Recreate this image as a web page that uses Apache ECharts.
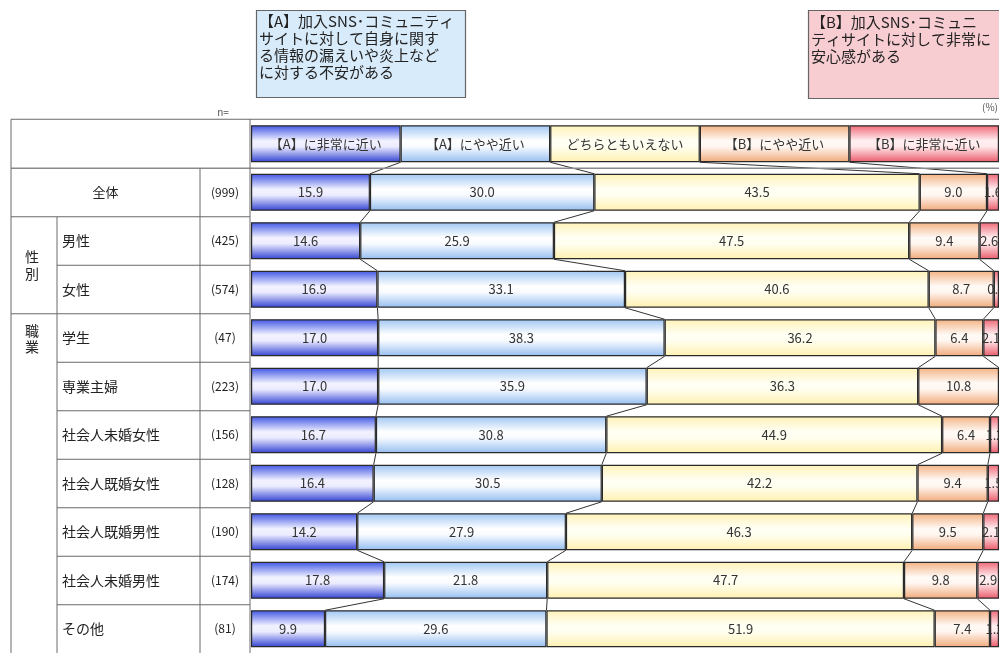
<!DOCTYPE html>
<html><head><meta charset="utf-8">
<script src="https://cdn.jsdelivr.net/npm/echarts@6/dist/echarts.min.js"></script>
<style>html,body{margin:0;padding:0;background:#fff}#main{width:999px;height:653px}</style>
</head><body><div id="main"></div>
<script>
// ---------- data ----------
const seriesNames = ['【A】に非常に近い', '【A】にやや近い', 'どちらともいえない', '【B】にやや近い', '【B】に非常に近い'];
const headerShares = [20, 20, 20, 20, 20];
const rowLabels = ['全体', '男性', '女性', '学生', '専業主婦', '社会人未婚女性', '社会人既婚女性', '社会人既婚男性', '社会人未婚男性', 'その他'];
const sampleSizes = [999, 425, 574, 47, 223, 156, 128, 190, 174, 81];
const veryA   = [15.9, 14.6, 16.9, 17.0, 17.0, 16.7, 16.4, 14.2, 17.8, 9.9];
const someA   = [30.0, 25.9, 33.1, 38.3, 35.9, 30.8, 30.5, 27.9, 21.8, 29.6];
const neither = [43.5, 47.5, 40.6, 36.2, 36.3, 44.9, 42.2, 46.3, 47.7, 51.9];
const someB   = [9.0, 9.4, 8.7, 6.4, 10.8, 6.4, 9.4, 9.5, 9.8, 7.4];
const veryB   = [1.6, 2.6, 0.7, 2.1, 0.0, 1.2, 1.5, 2.1, 2.9, 1.2];
// group rows given as indices into rowLabels
const groupLabels = [{text: '性\n別', from: 1, to: 2, align: 'middle'}, {text: '職\n業', from: 3, to: 9, align: 'top'}];
const boxAText = '【A】加入SNS･コミュニティ\nサイトに対して自身に関す\nる情報の漏えいや炎上など\nに対する不安がある';
const boxBText = '【B】加入SNS･コミュニ\nティサイトに対して非常に\n安心感がある';

// ---------- layout / style ----------
const FONT = '"Noto Sans CJK JP", "Noto Sans", sans-serif';
const GRID = {left: 251, top: 119.5, width: 754, height: 539};
const BAR_W = 37;
const TABLE = {x0: 11, xGroup: 57, xN: 200, x1: 250, right: 999};
const values = [veryA, someA, neither, someB, veryB];
const cats = ['__header'].concat(rowLabels);
const grads = [
  [[0, '#3f55e4'], [0.42, '#f2f2ff'], [0.58, '#ececff'], [1, '#3142d2']],
  [[0, '#9fc6f3'], [0.42, '#ffffff'], [0.58, '#f8fbff'], [1, '#94bdf0']],
  [[0, '#fff2b8'], [0.42, '#fffff4'], [0.58, '#fffff0'], [1, '#fff0b0']],
  [[0, '#f3b283'], [0.42, '#fffaf6'], [0.58, '#fff6f0'], [1, '#f0aa7a']],
  [[0, '#ef6675'], [0.42, '#fff0f2'], [0.58, '#ffe8ea'], [1, '#ea5a6a']]
];

const chart = echarts.init(document.getElementById('main'), null, {renderer: 'canvas'});

const barSeries = seriesNames.map((name, k) => ({
  name: name,
  type: 'bar',
  stack: 'total',
  barWidth: BAR_W,
  data: [headerShares[k]].concat(values[k]),
  itemStyle: {
    color: new echarts.graphic.LinearGradient(0, 0, 0, 1, grads[k].map(s => ({offset: s[0], color: s[1]}))),
    borderColor: '#2a2a2a',
    borderWidth: 1.2
  },
  label: {
    show: true,
    position: 'inside',
    color: '#333',
    fontFamily: FONT,
    fontSize: 13,
    formatter: p => p.dataIndex === 0 ? p.seriesName : (p.value === 0 ? '' : Number(p.value).toFixed(1))
  },
  emphasis: {disabled: true},
  silent: true,
  animation: false
}));

// connector lines between consecutive rows
const allRows = [headerShares].concat(rowLabels.map((_, i) => values.map(v => v[i])));
const cumRows = allRows.map(r => { let s = 0; return r.map(v => (s += v)); });
const connectors = [];
for (let i = 0; i < cumRows.length - 1; i++) {
  for (let k = 0; k < 4; k++) {
    connectors.push([cumRows[i][k], i, cumRows[i + 1][k], i + 1]);
  }
}

const option = {
  animation: false,
  backgroundColor: '#fff',
  grid: {left: GRID.left, top: GRID.top, width: GRID.width, height: GRID.height, containLabel: false},
  xAxis: {type: 'value', min: 0, max: 100, show: false},
  yAxis: {type: 'category', data: cats, inverse: true, show: false},
  series: barSeries.concat([{
    type: 'custom',
    silent: true,
    clip: false,
    data: connectors,
    encode: {x: [0, 2], y: [1, 3]},
    renderItem: (params, api) => {
      const a = api.coord([api.value(0), api.value(1)]);
      const b = api.coord([api.value(2), api.value(3)]);
      const h = BAR_W / 2;
      return {type: 'line', shape: {x1: a[0], y1: a[1] + h, x2: b[0], y2: b[1] - h},
              style: {stroke: '#333', lineWidth: 1}};
    }
  }])
};
chart.setOption(option);

// ---------- table & text boxes ----------
function rowY(i) { return chart.convertToPixel({gridIndex: 0}, [0, cats[i]])[1]; }
const band = GRID.height / cats.length;
const g = [];
const lineStyle = {stroke: '#6a6a6a', lineWidth: 1};
function hline(x1, x2, y, st) { g.push({type: 'line', shape: {x1, y1: y, x2, y2: y}, style: st || lineStyle, z: 100}); }
function vline(x, y1, y2) { g.push({type: 'line', shape: {x1: x, y1, x2: x, y2}, style: lineStyle, z: 100}); }
const topY = rowY(0) - band / 2;
const headBottom = rowY(0) + band / 2;
const bottomY = 653;
hline(TABLE.x0, TABLE.right, topY);
hline(TABLE.x0, TABLE.right, headBottom, {stroke: '#8a8a8a', lineWidth: 1.5});
vline(TABLE.x0, topY, bottomY);
vline(TABLE.x1, topY, bottomY);
vline(TABLE.xN, headBottom, bottomY);
vline(TABLE.xGroup, rowY(1) + band / 2, bottomY);
// row lines (below cats row i); full width when the next row starts a group
for (let i = 1; i < cats.length - 1; i++) {
  const y = rowY(i) + band / 2;
  const nextRow = i; // index into rowLabels of the row below this line
  const full = i === 1 || groupLabels.some(gr => gr.from === nextRow);
  hline(full ? TABLE.x0 : TABLE.xGroup, TABLE.x1, y);
}
// row texts
rowLabels.forEach((lab, j) => {
  const i = j + 1, y = rowY(i);
  if (j === 0) {
    g.push({type: 'text', x: (TABLE.x0 + TABLE.xN) / 2, y, style: {text: lab, font: '13px ' + FONT, fill: '#222', align: 'center', verticalAlign: 'middle'}, z: 101});
  } else {
    g.push({type: 'text', x: 62, y, style: {text: lab, font: '14px ' + FONT, fill: '#222', align: 'left', verticalAlign: 'middle'}, z: 101});
  }
  g.push({type: 'text', x: (TABLE.xN + TABLE.x1) / 2, y, style: {text: '(' + sampleSizes[j] + ')', font: '12px ' + FONT, fill: '#222', align: 'center', verticalAlign: 'middle'}, z: 101});
});
groupLabels.forEach(gr => {
  const x = 32;
  if (gr.align === 'middle') {
    const y = (rowY(gr.from + 1) + rowY(gr.to + 1)) / 2;
    g.push({type: 'text', x, y, style: {text: gr.text, font: '14px ' + FONT, fill: '#222', align: 'center', verticalAlign: 'middle', lineHeight: 17}, z: 101});
  } else {
    const y = rowY(gr.from + 1) - band / 2 + 9;
    g.push({type: 'text', x, y, style: {text: gr.text, font: '14px ' + FONT, fill: '#222', align: 'center', verticalAlign: 'top', lineHeight: 16}, z: 101});
  }
});
g.push({type: 'text', x: 223, y: topY - 7, style: {text: 'n=', font: '10px ' + FONT, fill: '#555', align: 'center', verticalAlign: 'middle'}, z: 101});
g.push({type: 'text', x: 982, y: topY - 12, style: {text: '(%)', font: '10px ' + FONT, fill: '#555', align: 'left', verticalAlign: 'middle'}, z: 101});
// text boxes
g.push({type: 'rect', shape: {x: 256.5, y: 10.5, width: 209, height: 87}, style: {fill: '#d8ebfa', stroke: '#666', lineWidth: 1.2}, z: 100});
g.push({type: 'text', x: 259, y: 13, style: {text: boxAText, font: '15px ' + FONT, fill: '#222', lineHeight: 17, align: 'left', verticalAlign: 'top'}, z: 101});
g.push({type: 'rect', shape: {x: 808.5, y: 10.5, width: 220, height: 88}, style: {fill: '#f8cdd1', stroke: '#666', lineWidth: 1.2}, z: 100});
g.push({type: 'text', x: 811, y: 14, style: {text: boxBText, font: '15px ' + FONT, fill: '#222', lineHeight: 17, align: 'left', verticalAlign: 'top'}, z: 101});

chart.setOption({graphic: {elements: g}});
</script>
</body></html>
